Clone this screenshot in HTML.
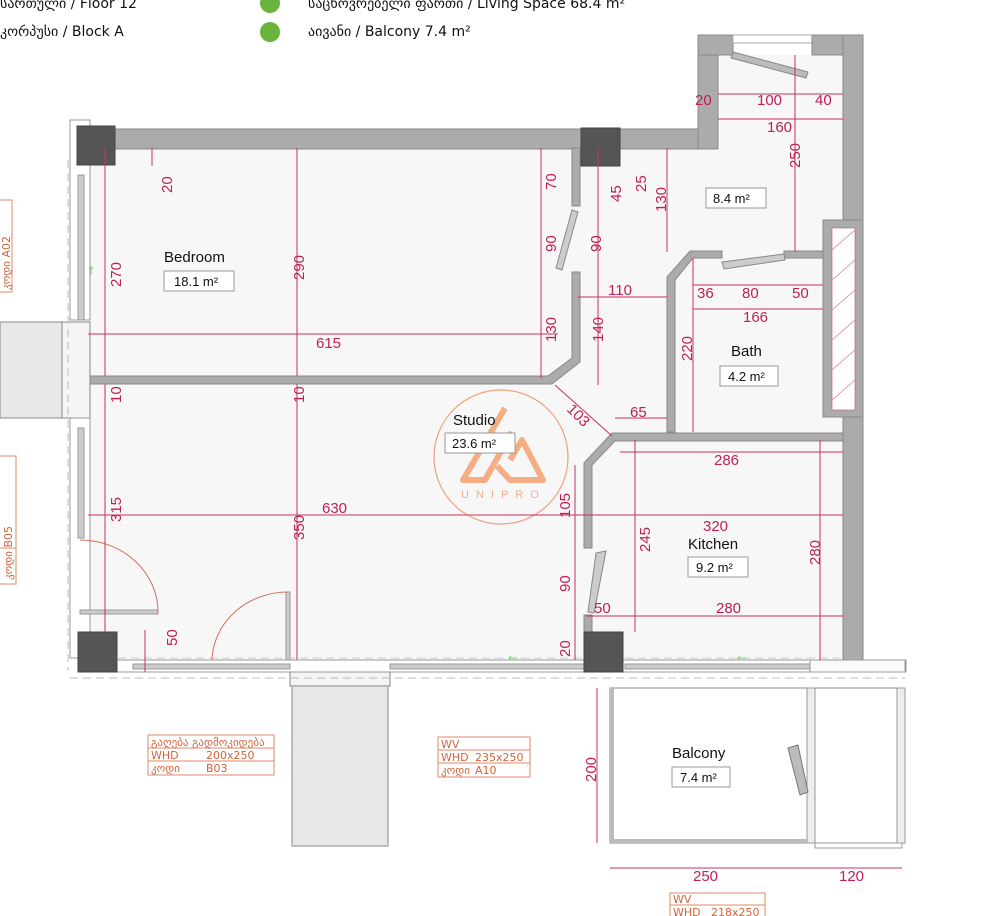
<!DOCTYPE html>
<html><head><meta charset="utf-8"><style>
html,body{margin:0;padding:0;background:#fff;}
svg{display:block;}
.d{stroke:#c8325e;stroke-width:1;fill:none}
.t{fill:#c01e55;font-family:"Liberation Sans","DejaVu Sans",sans-serif;font-size:15px}
.w{fill:#ababab;stroke:#8a8a8a;stroke-width:1}
.c{fill:#555;stroke:#444}
.lbl{font-family:"Liberation Sans",sans-serif;font-size:15px;fill:#111}
.ar{font-family:"Liberation Sans",sans-serif;font-size:13px;fill:#111}
.box{fill:#fff;stroke:#999;stroke-width:1}
.o{font-family:"DejaVu Sans","Liberation Sans",sans-serif;font-size:11px;fill:#d2643a}
.ot{fill:none;stroke:#e08a6a;stroke-width:1}
.h{font-family:"DejaVu Sans","Liberation Sans",sans-serif;font-size:14px;fill:#111}
</style></head><body>
<svg width="1000" height="916" viewBox="0 0 1000 916" xmlns="http://www.w3.org/2000/svg">
<!-- header -->
<text class="h" x="0" y="8">სართული / Floor   12</text>
<text class="h" x="0" y="36">კორპუსი / Block   A</text>
<circle cx="270" cy="3" r="10" fill="#6ab43e"/>
<circle cx="270" cy="32" r="10" fill="#6ab43e"/>
<text class="h" x="308" y="8">საცხოვრებელი ფართი / Living Space   68.4 m²</text>
<text class="h" x="308" y="36">აივანი / Balcony 7.4 m²</text>

<!-- floors -->
<polygon points="90,148 718,148 718,55 843,55 843,660 90,660" fill="#f7f7f7"/>
<rect x="610" y="688" width="295" height="155" fill="#fff" stroke="#888"/>
<rect x="807" y="688" width="8" height="155" fill="#eee" stroke="#999"/>
<rect x="897" y="688" width="8" height="155" fill="#eee" stroke="#999"/>
<rect x="610" y="688" width="4" height="155" fill="#bbb"/>
<rect x="610" y="839" width="197" height="4" fill="#bbb"/>
<rect x="815" y="843" width="87" height="5" fill="#fff" stroke="#999"/>
<polygon points="788,748 798,745 808,792 800,795" fill="#bbb" stroke="#777"/>
<rect x="0" y="322" width="62" height="96" fill="#e8e8e8" stroke="#888"/>
<rect x="62" y="322" width="28" height="96" fill="#f4f4f4" stroke="#888"/>
<rect x="292" y="686" width="96" height="160" fill="#e8e8e8" stroke="#888"/>
<rect x="290" y="672" width="100" height="14" fill="#f4f4f4" stroke="#888"/>

<!-- walls -->
<rect class="w" x="90" y="129" width="628" height="20"/>
<rect class="w" x="698" y="35" width="20" height="114"/>
<rect class="w" x="698" y="35" width="35" height="20"/>
<rect x="733" y="35" width="79" height="8" fill="#fff" stroke="#aaa"/>
<polygon points="733,52 808,72 806,78 731,58" fill="#bbb" stroke="#888"/>
<rect class="w" x="812" y="35" width="51" height="20"/>
<rect class="w" x="843" y="35" width="20" height="625"/>
<rect class="w" x="823" y="220" width="40" height="197"/>
<rect x="832" y="228" width="23" height="182" fill="#fff" stroke="#c0506a" stroke-width="0.6"/>
<g stroke="#d07080" stroke-width="0.6">
<line x1="832" y1="250" x2="855" y2="230"/><line x1="832" y1="280" x2="855" y2="260"/><line x1="832" y1="310" x2="855" y2="290"/><line x1="832" y1="340" x2="855" y2="320"/><line x1="832" y1="370" x2="855" y2="350"/><line x1="832" y1="400" x2="855" y2="380"/>
</g>
<!-- bath walls -->
<polygon class="w" points="690,251 722,251 722,258 693,258 675,280 675,432 667,432 667,277"/>
<rect class="w" x="784" y="251" width="39" height="7"/>
<polygon points="722,262 784,254 785,260 724,269" fill="#ccc" stroke="#888"/>
<!-- kitchen walls -->
<polygon class="w" points="612,433 843,433 843,441 615,441 592,465 592,548 584,548 584,463"/>
<rect class="w" x="584" y="615" width="8" height="17"/>
<polygon points="596,553 606,551 594,613 588,612" fill="#ccc" stroke="#888"/>
<!-- corridor walls -->
<rect class="w" x="572" y="148" width="8" height="58"/>
<polygon points="572,272 580,272 580,362 552,384 90,384 90,376 548,376 572,358" class="w"/>
<polygon points="572,210 578,212 562,270 556,268" fill="#ccc" stroke="#888"/>
<!-- left window wall -->
<rect x="70" y="120" width="20" height="200" fill="#fff" stroke="#999"/>
<rect x="78" y="175" width="6" height="145" fill="#ccc" stroke="#999"/>
<rect x="70" y="418" width="20" height="240" fill="#fff" stroke="#999"/>
<rect x="78" y="428" width="6" height="110" fill="#ccc" stroke="#999"/>
<line x1="68" y1="160" x2="68" y2="670" stroke="#bbb" stroke-dasharray="8,5"/>
<!-- bottom wall -->
<rect x="78" y="660" width="828" height="12" fill="#fff" stroke="#999"/>
<rect x="133" y="664" width="157" height="5" fill="#ccc" stroke="#999"/>
<rect x="390" y="664" width="194" height="5" fill="#ccc" stroke="#999"/>
<rect x="625" y="664" width="185" height="5" fill="#ccc" stroke="#999"/>
<rect x="810" y="660" width="95" height="12" fill="#fafafa" stroke="#999"/>
<line x1="70" y1="678" x2="905" y2="678" stroke="#bbb" stroke-dasharray="8,5"/>
<line x1="118" y1="658" x2="840" y2="658" stroke="#ccc" stroke-dasharray="8,5"/>
<rect x="80" y="610" width="78" height="4" fill="#ccc" stroke="#999"/>
<path d="M80,540 A78,72 0 0 1 158,612" fill="none" stroke="#d07060"/>
<rect x="286" y="592" width="4" height="68" fill="#ccc" stroke="#999"/>
<path d="M212,660 A76,70 0 0 1 288,592" fill="none" stroke="#d07060"/>
<!-- columns -->
<rect class="c" x="77" y="126" width="38" height="39"/>
<rect class="c" x="581" y="128" width="39" height="38"/>
<rect class="c" x="78" y="632" width="39" height="40"/>
<rect class="c" x="584" y="632" width="39" height="40"/>

<!-- logo -->
<circle cx="501" cy="457" r="67" fill="none" stroke="#f0a07a" stroke-width="1.2"/>
<path d="M505,408 L463,480 L485,480 L512,432 M497,466 L510,480 L543,480 L522,440 L510,460" fill="none" stroke="#f5a070" stroke-width="6" stroke-linejoin="round" opacity="0.85"/>
<text x="461" y="498" font-family="Liberation Sans,sans-serif" font-size="11" fill="#f3b090" letter-spacing="7">UNIPRO</text>

<!-- room labels -->
<text class="lbl" x="164" y="262">Bedroom</text>
<rect class="box" x="164" y="271" width="70" height="20"/><text class="ar" x="174" y="286">18.1 m²</text>
<rect class="box" x="706" y="188" width="60" height="20"/><text class="ar" x="713" y="203">8.4 m²</text>
<text class="lbl" x="731" y="356">Bath</text>
<rect class="box" x="720" y="366" width="58" height="20"/><text class="ar" x="728" y="381">4.2 m²</text>
<text class="lbl" x="453" y="425">Studio</text>
<rect class="box" x="445" y="433" width="70" height="20"/><text class="ar" x="452" y="448">23.6 m²</text>
<text class="lbl" x="688" y="549">Kitchen</text>
<rect class="box" x="688" y="557" width="60" height="20"/><text class="ar" x="696" y="572">9.2 m²</text>
<text class="lbl" x="672" y="758">Balcony</text>
<rect class="box" x="672" y="767" width="58" height="20"/><text class="ar" x="680" y="782">7.4 m²</text>

<!-- dimension lines -->
<g class="d">
<line x1="152" y1="148" x2="152" y2="166"/>
<line x1="105" y1="148" x2="105" y2="376"/>
<line x1="297" y1="148" x2="297" y2="376"/>
<line x1="88" y1="334" x2="558" y2="334"/>
<line x1="541" y1="148" x2="541" y2="378"/>
<line x1="598" y1="148" x2="598" y2="385"/>
<line x1="667" y1="148" x2="667" y2="252"/>
<line x1="578" y1="297" x2="667" y2="297"/>
<line x1="718" y1="94" x2="843" y2="94"/>
<line x1="718" y1="119" x2="843" y2="119"/>
<line x1="795" y1="55" x2="795" y2="252"/>
<line x1="693" y1="285" x2="823" y2="285"/>
<line x1="693" y1="309" x2="823" y2="309"/>
<line x1="693" y1="258" x2="693" y2="432"/>
<line x1="555" y1="385" x2="612" y2="436"/>
<line x1="615" y1="418" x2="667" y2="418"/>
<line x1="620" y1="452" x2="843" y2="452"/>
<line x1="635" y1="440" x2="635" y2="632"/>
<line x1="88" y1="515" x2="843" y2="515"/>
<line x1="820" y1="440" x2="820" y2="660"/>
<line x1="622" y1="616" x2="843" y2="616"/>
<line x1="586" y1="616" x2="622" y2="616"/>
<line x1="105" y1="384" x2="105" y2="632"/>
<line x1="297" y1="384" x2="297" y2="660"/>
<line x1="575" y1="465" x2="575" y2="660"/>
<line x1="145" y1="630" x2="145" y2="672"/>
<line x1="597" y1="688" x2="597" y2="843"/>
<line x1="610" y1="868" x2="902" y2="868"/>
</g>
<!-- dimension text -->
<g class="t">
<text transform="translate(172,193) rotate(-90)">20</text>
<text transform="translate(121,287) rotate(-90)">270</text>
<text transform="translate(304,280) rotate(-90)">290</text>
<text x="316" y="348">615</text>
<text transform="translate(556,190) rotate(-90)">70</text>
<text transform="translate(556,252) rotate(-90)">90</text>
<text transform="translate(556,342) rotate(-90)">130</text>
<text transform="translate(601,252) rotate(-90)">90</text>
<text transform="translate(621,202) rotate(-90)">45</text>
<text transform="translate(646,192) rotate(-90)">25</text>
<text transform="translate(666,212) rotate(-90)">130</text>
<text transform="translate(603,342) rotate(-90)">140</text>
<text x="608" y="295">110</text>
<text x="695" y="105">20</text>
<text x="757" y="105">100</text>
<text x="815" y="105">40</text>
<text x="767" y="132">160</text>
<text transform="translate(800,168) rotate(-90)">250</text>
<text x="697" y="298">36</text>
<text x="742" y="298">80</text>
<text x="792" y="298">50</text>
<text x="743" y="322">166</text>
<text transform="translate(692,361) rotate(-90)">220</text>
<text transform="translate(566,410) rotate(45)">103</text>
<text x="630" y="417">65</text>
<text x="714" y="465">286</text>
<text transform="translate(121,403) rotate(-90)">10</text>
<text transform="translate(304,403) rotate(-90)">10</text>
<text transform="translate(121,522) rotate(-90)">315</text>
<text transform="translate(304,540) rotate(-90)">350</text>
<text x="322" y="513">630</text>
<text transform="translate(570,518) rotate(-90)">105</text>
<text transform="translate(570,592) rotate(-90)">90</text>
<text transform="translate(570,657) rotate(-90)">20</text>
<text x="594" y="613">50</text>
<text transform="translate(650,552) rotate(-90)">245</text>
<text x="703" y="531">320</text>
<text transform="translate(820,565) rotate(-90)">280</text>
<text x="716" y="613">280</text>
<text transform="translate(177,646) rotate(-90)">50</text>
<text transform="translate(596,782) rotate(-90)">200</text>
<text x="693" y="881">250</text>
<text x="839" y="881">120</text>
</g>

<!-- tags -->
<g>
<rect class="ot" x="148" y="735" width="126" height="40"/>
<line class="ot" x1="148" y1="748" x2="274" y2="748"/><line class="ot" x1="148" y1="761" x2="274" y2="761"/>
<text class="o" x="151" y="746" font-size="10">გაღება გადმოკიდება</text>
<text class="o" x="151" y="759">WHD</text><text class="o" x="206" y="759">200x250</text>
<text class="o" x="151" y="772">კოდი</text><text class="o" x="206" y="772">B03</text>
<rect class="ot" x="438" y="737" width="92" height="40"/>
<line class="ot" x1="438" y1="750" x2="530" y2="750"/><line class="ot" x1="438" y1="763" x2="530" y2="763"/>
<text class="o" x="441" y="748">WV</text>
<text class="o" x="441" y="761">WHD</text><text class="o" x="475" y="761">235x250</text>
<text class="o" x="441" y="774">კოდი</text><text class="o" x="475" y="774">A10</text>
<rect class="ot" x="670" y="893" width="95" height="30"/>
<line class="ot" x1="670" y1="905" x2="765" y2="905"/>
<text class="o" x="673" y="903">WV</text>
<text class="o" x="673" y="916">WHD</text><text class="o" x="711" y="916">218x250</text>
<rect class="ot" x="-2" y="200" width="14" height="92"/>
<text class="o" transform="translate(10,290) rotate(-90)">კოდი   A02</text>
<rect class="ot" x="-2" y="456" width="18" height="128"/>
<line class="ot" x1="-2" y1="548" x2="16" y2="548"/>
<text class="o" transform="translate(12,580) rotate(-90)">კოდი     B05</text>
</g>
<text x="86" y="275" fill="#8c8" font-size="12" font-family="DejaVu Sans">↑</text>
<text x="508" y="662" fill="#8c8" font-size="12" font-family="DejaVu Sans">←</text>
<text x="737" y="662" fill="#8c8" font-size="12" font-family="DejaVu Sans">←</text>
</svg>
</body></html>
